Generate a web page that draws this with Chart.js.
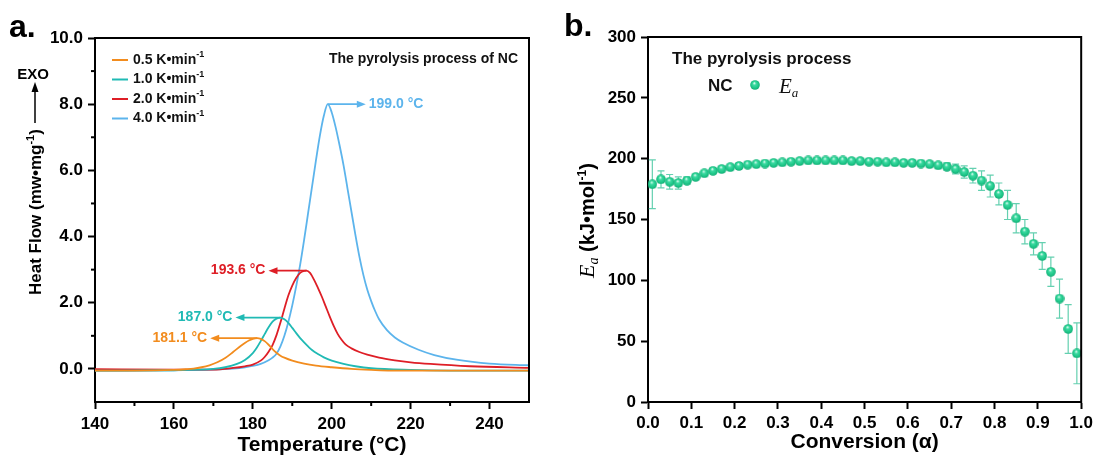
<!DOCTYPE html>
<html>
<head>
<meta charset="utf-8">
<script src="https://cdn.jsdelivr.net/npm/chart.js@4.4.1/dist/chart.umd.min.js"></script>
<style>
  html, body { margin: 0; padding: 0; background: #fff; }
  #wrap { position: relative; width: 1097px; height: 456px; overflow: hidden; }
  canvas { position: absolute; top: 0; }
  #dsc { left: 0; }
  #ea { left: 540px; }
</style>
</head>
<body>
<div id="wrap">
  <canvas id="dsc" width="540" height="456"></canvas>
  <canvas id="ea" width="557" height="456"></canvas>
</div>
<script>
// panel a: DSC curves at four heating rates
const rates = ["0.5", "1.0", "2.0", "4.0"];
const peakLabels = ["181.1 °C", "187.0 °C", "193.6 °C", "199.0 °C"];
const tempTicks = [140, 160, 180, 200, 220, 240];
const hfTicks = [0, 2, 4, 6, 8, 10];

const t05 = [140, 150, 160, 163, 165, 167, 169, 171, 173, 175, 177, 179, 180, 181.1, 182, 183, 184, 185, 186, 187, 188, 190, 193, 196, 200, 205, 210, 215, 220, 230, 240, 250];
const hf05 = [-0.05, -0.05, -0.03, -0.01, 0.01, 0.05, 0.11, 0.2, 0.33, 0.51, 0.7, 0.86, 0.91, 0.93, 0.91, 0.84, 0.73, 0.6, 0.49, 0.4, 0.34, 0.25, 0.16, 0.1, 0.05, 0.0, -0.03, -0.05, -0.05, -0.05, -0.05, -0.05];

const t10 = [140, 160, 170, 173, 176, 178, 180, 181, 182, 183, 184, 185, 186, 187, 188, 189, 190, 191, 192, 193, 194, 195, 196.5, 198, 200, 203, 206, 210, 220, 230, 240, 250];
const hf10 = [-0.05, -0.04, 0.0, 0.05, 0.15, 0.27, 0.48, 0.64, 0.84, 1.05, 1.26, 1.43, 1.52, 1.55, 1.5, 1.39, 1.24, 1.08, 0.93, 0.8, 0.68, 0.57, 0.45, 0.35, 0.25, 0.15, 0.08, 0.02, -0.03, -0.05, -0.05, -0.05];

const t20 = [140, 160, 170, 175, 178, 180, 182, 183, 184, 185, 186, 187, 188, 189, 190, 191, 192, 193, 193.6, 194.5, 195.5, 196.5, 197.5, 198.5, 199.5, 200.5, 201.5, 202.5, 203.5, 205, 207, 209, 212, 216, 220, 225, 235, 250];
const hf20 = [-0.01, -0.02, -0.02, 0.03, 0.08, 0.13, 0.25, 0.36, 0.52, 0.72, 1.02, 1.4, 1.82, 2.22, 2.52, 2.75, 2.9, 2.96, 2.97, 2.9, 2.7, 2.45, 2.18, 1.88, 1.58, 1.3, 1.06, 0.88, 0.74, 0.62, 0.51, 0.43, 0.34, 0.26, 0.2, 0.15, 0.08, 0.03];

const t40 = [140, 160, 170, 178, 182, 184, 185, 186, 187, 188, 189, 190, 191, 192, 193, 194, 195, 196, 197, 198, 199, 200, 201, 202, 203, 204, 205, 206, 207, 208, 209, 210, 211, 212, 214, 216, 218, 222, 226, 232, 240, 250];
const hf40 = [-0.05, -0.04, -0.02, 0.05, 0.15, 0.26, 0.34, 0.46, 0.68, 1.0, 1.42, 1.92, 2.5, 3.15, 3.9, 4.7, 5.5, 6.3, 7.05, 7.65, 8.0, 7.75, 7.3, 6.75, 6.15, 5.45, 4.75, 4.05, 3.4, 2.85, 2.4, 2.05, 1.75, 1.5, 1.17, 0.95, 0.8, 0.58, 0.42, 0.27, 0.16, 0.11];

// panel b: activation energy vs conversion
const conversion = [0.01, 0.03, 0.05, 0.07, 0.09, 0.11, 0.13, 0.15, 0.17, 0.19,
  0.21, 0.23, 0.25, 0.27, 0.29, 0.31, 0.33, 0.35, 0.37, 0.39,
  0.41, 0.43, 0.45, 0.47, 0.49, 0.51, 0.53, 0.55, 0.57, 0.59,
  0.61, 0.63, 0.65, 0.67, 0.69, 0.71, 0.73, 0.75, 0.77, 0.79,
  0.81, 0.83, 0.85, 0.87, 0.89, 0.91, 0.93, 0.95, 0.97, 0.99];
const ea = [179, 183, 181, 180, 182, 185, 188, 190, 191.5, 193,
  194, 195, 195.5, 196, 196.5, 197, 197.5, 198, 198.5, 198.5,
  198.5, 198.5, 198.5, 198, 198, 197.5, 197.5, 197, 197, 196.5,
  196.5, 196, 195.5, 194.5, 193.5, 191.5, 189, 186, 182, 177.5,
  171, 162, 151, 140, 130, 120, 107, 85, 60, 40];
const eaErr = [20, 7, 6, 5, 3, 2, 1.5, 1, 1, 1,
  1, 1, 1, 1, 1, 1, 1, 1, 1, 1,
  1, 1, 1, 1, 1, 1, 1, 1, 1, 1,
  1, 1, 1.5, 2, 3, 4, 5, 6, 8, 9,
  9, 12, 12, 10, 9, 11, 12, 16, 20, 25];

const FONT = "Arial, 'Liberation Sans', sans-serif";
const SERIF = "'Times New Roman', 'Liberation Serif', serif";
const colors = ["rgb(242,140,30)", "rgb(32,186,180)", "rgb(222,30,38)", "rgb(92,180,236)"];
const seriesT = [t05, t10, t20, t40];
const seriesHF = [hf05, hf10, hf20, hf40];

// draw a run of text pieces (for super/subscripts)
function drawParts(ctx, parts, x, y, align) {
  let total = 0;
  parts.forEach(p => { ctx.font = p.font; p.w = ctx.measureText(p.t).width; total += p.w; });
  let cx = align === "right" ? x - total : align === "center" ? x - total / 2 : x;
  ctx.textAlign = "left";
  parts.forEach(p => {
    ctx.font = p.font;
    ctx.fillText(p.t, cx, y + (p.dy || 0));
    cx += p.w;
  });
}

function frame(ctx, a) {
  ctx.save();
  ctx.strokeStyle = "#000";
  ctx.lineWidth = 2;
  ctx.beginPath();
  ctx.moveTo(a.left - 1, a.top);
  ctx.lineTo(a.right, a.top);
  ctx.lineTo(a.right, a.bottom + 1);
  ctx.stroke();
  ctx.restore();
}

const tickFont = { family: FONT, size: 17, weight: "bold" };

const dscDecor = {
  id: "dscDecor",
  afterDraw(chart) {
    const { ctx, chartArea: a, scales: { x, y } } = chart;
    frame(ctx, a);
    ctx.save();
    ctx.strokeStyle = "#000";
    ctx.lineWidth = 2;
    // minor ticks
    [150, 170, 190, 210, 230].forEach(v => {
      const px = x.getPixelForValue(v);
      ctx.beginPath(); ctx.moveTo(px, a.bottom); ctx.lineTo(px, a.bottom + 4); ctx.stroke();
    });
    [1, 3, 5, 7, 9].forEach(v => {
      const py = y.getPixelForValue(v);
      ctx.beginPath(); ctx.moveTo(a.left, py); ctx.lineTo(a.left - 4, py); ctx.stroke();
    });

    // legend
    ctx.textBaseline = "middle";
    rates.forEach((r, i) => {
      const ly = 60 + i * 19.5;
      ctx.strokeStyle = colors[i];
      ctx.lineWidth = 2;
      ctx.beginPath(); ctx.moveTo(112, ly); ctx.lineTo(128, ly); ctx.stroke();
      ctx.fillStyle = "#111";
      drawParts(ctx, [
        { t: r + " K•min", font: "bold 14px " + FONT },
        { t: "-1", font: "bold 9px " + FONT, dy: -5 }
      ], 133, ly, "left");
    });

    ctx.fillStyle = "#111";
    ctx.font = "bold 14px " + FONT;
    ctx.textAlign = "right";
    ctx.fillText("The pyrolysis process of NC", 518, 59);

    // peak arrows
    const dirs = [-1, -1, -1, 1];
    const lens = [47, 45, 38, 38];
    seriesHF.forEach((hf, i) => {
      let k = 0;
      hf.forEach((v, j) => { if (v > hf[k]) k = j; });
      const px = x.getPixelForValue(seriesT[i][k]);
      const py = y.getPixelForValue(hf[k]);
      const d = dirs[i];
      const tip = px + d * lens[i];
      ctx.strokeStyle = colors[i];
      ctx.fillStyle = colors[i];
      ctx.lineWidth = 1.8;
      ctx.beginPath(); ctx.moveTo(px, py); ctx.lineTo(tip - d * 6, py); ctx.stroke();
      ctx.beginPath();
      ctx.moveTo(tip, py); ctx.lineTo(tip - d * 9, py - 3.5); ctx.lineTo(tip - d * 9, py + 3.5);
      ctx.closePath(); ctx.fill();
      ctx.font = "bold 14px " + FONT;
      ctx.textAlign = d < 0 ? "right" : "left";
      ctx.fillText(peakLabels[i], tip + d * 3, py);
    });

    // axis titles
    ctx.fillStyle = "#000";
    ctx.textBaseline = "alphabetic";
    ctx.font = "bold 21px " + FONT;
    ctx.textAlign = "center";
    ctx.fillText("Temperature (°C)", 322, 451);

    ctx.save();
    ctx.translate(41, 295);
    ctx.rotate(-Math.PI / 2);
    drawParts(ctx, [
      { t: "Heat Flow (mw•mg", font: "bold 17px " + FONT },
      { t: "-1", font: "bold 11px " + FONT, dy: -7 },
      { t: ")", font: "bold 17px " + FONT }
    ], 0, 0, "left");
    ctx.restore();

    // EXO arrow
    ctx.strokeStyle = "#000";
    ctx.lineWidth = 1.5;
    ctx.beginPath(); ctx.moveTo(35, 123); ctx.lineTo(35, 90); ctx.stroke();
    ctx.fillStyle = "#000";
    ctx.beginPath(); ctx.moveTo(35, 82); ctx.lineTo(31.5, 92); ctx.lineTo(38.5, 92); ctx.closePath(); ctx.fill();
    ctx.font = "bold 15px " + FONT;
    ctx.textAlign = "center";
    ctx.textBaseline = "middle";
    ctx.fillText("EXO", 33, 75);

    ctx.textBaseline = "alphabetic";
    ctx.textAlign = "left";
    ctx.font = "bold 32px " + FONT;
    ctx.fillText("a.", 9, 37);
    ctx.restore();
  }
};

new Chart(document.getElementById("dsc"), {
  type: "line",
  data: {
    datasets: rates.map((r, i) => ({
      label: r + " K•min⁻¹",
      data: seriesT[i].map((t, j) => ({ x: t, y: seriesHF[i][j] })),
      borderColor: colors[i],
      borderWidth: 1.8,
      pointRadius: 0,
      cubicInterpolationMode: "monotone",
      fill: false
    }))
  },
  options: {
    responsive: false,
    animation: false,
    devicePixelRatio: 1,
    layout: { padding: { top: 38, right: 11, left: 0, bottom: 0 } },
    plugins: { legend: { display: false }, tooltip: { enabled: false } },
    scales: {
      x: {
        type: "linear",
        min: 140,
        max: 250,
        afterFit: s => { s.height = 54; },
        afterBuildTicks: s => { s.ticks = tempTicks.map(v => ({ value: v })); },
        ticks: {
          autoSkip: false,
          maxRotation: 0,
          padding: 5,
          color: "#000",
          font: tickFont,
          callback: v => String(v)
        },
        grid: { drawOnChartArea: false, tickLength: 7, tickWidth: 2, tickColor: "#000" },
        border: { color: "#000", width: 2 }
      },
      y: {
        min: -1,
        max: 10,
        afterFit: s => { s.width = 95; },
        afterBuildTicks: s => { s.ticks = hfTicks.map(v => ({ value: v })); },
        ticks: {
          autoSkip: false,
          padding: 5,
          color: "#000",
          font: tickFont,
          callback: v => v.toFixed(1)
        },
        grid: { drawOnChartArea: false, tickLength: 7, tickWidth: 2, tickColor: "#000" },
        border: { color: "#000", width: 2 }
      }
    }
  },
  plugins: [dscDecor]
});

// shaded sphere used as the point marker
function makeSphere(d) {
  const c = document.createElement("canvas");
  c.width = d; c.height = d;
  const g = c.getContext("2d");
  const r = d / 2;
  const grad = g.createRadialGradient(r * 0.85, r * 0.6, 0.2, r, r, r);
  grad.addColorStop(0, "#eafff6");
  grad.addColorStop(0.3, "#3ddba2");
  grad.addColorStop(0.75, "#1cc486");
  grad.addColorStop(1, "#10a872");
  g.fillStyle = grad;
  g.beginPath(); g.arc(r, r, r - 0.2, 0, Math.PI * 2); g.fill();
  return c;
}
const sphere = makeSphere(10);

const eaDecor = {
  id: "eaDecor",
  beforeDatasetsDraw(chart) {
    const { ctx, scales: { x, y } } = chart;
    ctx.save();
    ctx.strokeStyle = "rgb(100,208,176)";
    ctx.lineWidth = 1.2;
    conversion.forEach((c, i) => {
      const px = x.getPixelForValue(c);
      const top = y.getPixelForValue(ea[i] + eaErr[i]);
      const bot = y.getPixelForValue(ea[i] - eaErr[i]);
      ctx.beginPath();
      ctx.moveTo(px, top); ctx.lineTo(px, bot);
      ctx.moveTo(px - 3.5, top); ctx.lineTo(px + 3.5, top);
      ctx.moveTo(px - 3.5, bot); ctx.lineTo(px + 3.5, bot);
      ctx.stroke();
    });
    ctx.restore();
  },
  afterDraw(chart) {
    const { ctx, chartArea: a } = chart;
    frame(ctx, a);
    ctx.save();
    ctx.fillStyle = "#111";
    ctx.textBaseline = "middle";
    ctx.textAlign = "left";
    ctx.font = "bold 17px " + FONT;
    ctx.fillText("The pyrolysis process", 132, 59);
    ctx.fillText("NC", 168, 86);
    ctx.drawImage(sphere, 215 - 5, 85 - 5);
    ctx.textBaseline = "alphabetic";
    drawParts(ctx, [
      { t: "E", font: "italic 21px " + SERIF },
      { t: "a", font: "italic 13px " + SERIF, dy: 4 }
    ], 239, 93, "left");

    ctx.fillStyle = "#000";
    ctx.save();
    ctx.translate(54, 278);
    ctx.rotate(-Math.PI / 2);
    drawParts(ctx, [
      { t: "E", font: "italic 22px " + SERIF },
      { t: "a", font: "italic 14px " + SERIF, dy: 4 },
      { t: " (kJ•mol", font: "bold 20px " + FONT },
      { t: "-1", font: "bold 12px " + FONT, dy: -8 },
      { t: ")", font: "bold 20px " + FONT }
    ], 0, 0, "left");
    ctx.restore();

    ctx.font = "bold 32px " + FONT;
    ctx.fillText("b.", 24, 36);
    ctx.restore();
  }
};

new Chart(document.getElementById("ea"), {
  type: "scatter",
  data: {
    datasets: [{
      label: "NC Ea",
      data: conversion.map((c, i) => ({ x: c, y: ea[i] })),
      pointStyle: sphere,
      pointRadius: 5,
      showLine: false
    }]
  },
  options: {
    responsive: false,
    animation: false,
    devicePixelRatio: 1,
    layout: { padding: { top: 37, right: 14, left: 0, bottom: 0 } },
    plugins: { legend: { display: false }, tooltip: { enabled: false } },
    scales: {
      x: {
        type: "linear",
        min: 0,
        max: 1,
        afterFit: s => { s.height = 54; },
        ticks: {
          stepSize: 0.1,
          autoSkip: false,
          maxRotation: 0,
          padding: 4,
          color: "#000",
          font: tickFont,
          callback: v => v.toFixed(1)
        },
        title: {
          display: true,
          text: "Conversion (α)",
          color: "#000",
          font: { family: FONT, size: 21, weight: "bold" },
          padding: { top: 0, bottom: 1 }
        },
        grid: { drawOnChartArea: false, tickLength: 7, tickWidth: 2, tickColor: "#000" },
        border: { color: "#000", width: 2 }
      },
      y: {
        min: 0,
        max: 300,
        afterFit: s => { s.width = 108; },
        ticks: {
          stepSize: 50,
          autoSkip: false,
          padding: 5,
          color: "#000",
          font: tickFont
        },
        grid: { drawOnChartArea: false, tickLength: 7, tickWidth: 2, tickColor: "#000" },
        border: { color: "#000", width: 2 }
      }
    }
  },
  plugins: [eaDecor]
});
</script>
</body>
</html>
